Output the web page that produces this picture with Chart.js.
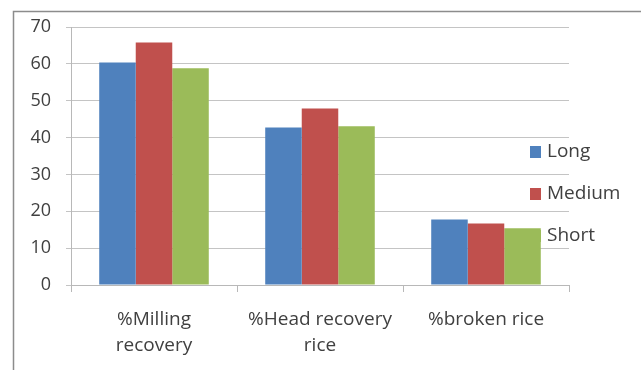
<!DOCTYPE html>
<html>
<head>
<meta charset="utf-8">
<script src="https://cdn.jsdelivr.net/npm/chart.js@4.4.1/dist/chart.umd.min.js"></script>
<style>
  html, body { margin: 0; padding: 0; background: #ffffff; }
  #wrap { width: 641px; height: 370px; position: relative; }
</style>
</head>
<body>
<div id="wrap"><canvas id="chart" width="641" height="370"></canvas></div>
<script>
// Rice milling outcomes by grain length (%)
const categories = [['%Milling', 'recovery'], ['%Head recovery', 'rice'], '%broken rice'];
const seriesNames = ['Long', 'Medium', 'Short'];
const longValues = [60.4, 42.7, 17.8];
const mediumValues = [65.8, 47.9, 16.7];
const shortValues = [58.8, 43.1, 15.4];
const yTicks = [0, 10, 20, 30, 40, 50, 60, 70];

const colors = ['#4F81BD', '#C0504D', '#9BBB59'];
const fontFamily = '"Open Sans", Lato, "DejaVu Sans", sans-serif';

// Outer frame around the chart (left and top edges visible)
const framePlugin = {
  id: 'frame',
  beforeDraw(chart) {
    const ctx = chart.ctx;
    ctx.save();
    ctx.strokeStyle = '#8c8c8c';
    ctx.lineWidth = 1.5;
    ctx.beginPath();
    ctx.moveTo(13.5, 370);
    ctx.lineTo(13.5, 11.5);
    ctx.lineTo(641, 11.5);
    ctx.stroke();
    ctx.restore();
  }
};

// Series key drawn beneath the bars
const keyPlugin = {
  id: 'seriesKey',
  beforeDatasetsDraw(chart) {
    const ctx = chart.ctx;
    ctx.save();
    ctx.font = '19px ' + fontFamily;
    ctx.textBaseline = 'middle';
    ctx.textAlign = 'left';
    chart.data.datasets.forEach((ds, i) => {
      const cy = 152 + i * 42;
      ctx.fillStyle = ds.backgroundColor;
      ctx.fillRect(530, cy - 6, 11, 12);
      ctx.fillStyle = '#404040';
      ctx.fillText(ds.label, 547, cy);
    });
    ctx.restore();
  }
};

new Chart(document.getElementById('chart'), {
  type: 'bar',
  data: {
    labels: categories,
    datasets: [
      { label: seriesNames[0], data: longValues, backgroundColor: colors[0] },
      { label: seriesNames[1], data: mediumValues, backgroundColor: colors[1] },
      { label: seriesNames[2], data: shortValues, backgroundColor: colors[2] }
    ]
  },
  options: {
    responsive: false,
    animation: false,
    layout: { padding: { left: 0, top: 27, right: 72, bottom: 0 } },
    datasets: { bar: { barPercentage: 1, categoryPercentage: 0.66 } },
    plugins: { legend: { display: false }, tooltip: { enabled: false } },
    scales: {
      x: {
        grid: { offset: true, drawOnChartArea: false, drawTicks: true, tickLength: 7, color: '#b8b8b8' },
        border: { color: '#b8b8b8' },
        ticks: {
          color: '#404040', padding: 15,
          font: { family: fontFamily, size: 19, lineHeight: 1.37 },
          maxRotation: 0, autoSkip: false
        },
        afterFit(scale) { scale.height = 85; }
      },
      y: {
        min: 0, max: 70,
        afterBuildTicks(scale) { scale.ticks = yTicks.map(v => ({ value: v })); },
        grid: { color: '#c4c4c4', tickLength: 5 },
        border: { color: '#b8b8b8' },
        ticks: {
          color: '#404040', padding: 15,
          font: { family: fontFamily, size: 18 }
        },
        afterFit(scale) { scale.width = 71; }
      }
    }
  },
  plugins: [framePlugin, keyPlugin]
});
</script>
</body>
</html>
